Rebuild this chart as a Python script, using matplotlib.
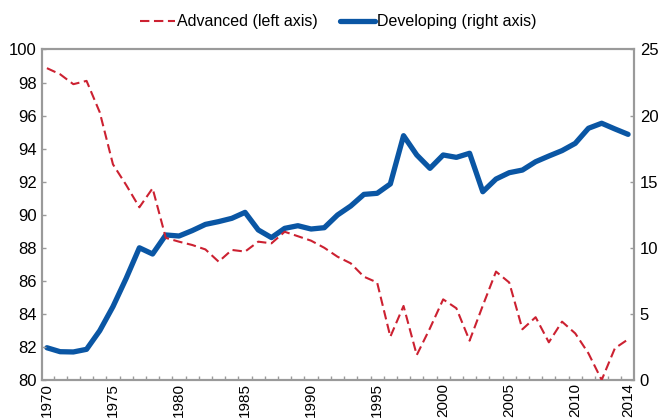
import matplotlib
matplotlib.use("Agg")
import matplotlib.pyplot as plt
from matplotlib import font_manager

# 字体：优先用窄体
names = {f.name for f in font_manager.fontManager.ttflist}
narrow = "Liberation Sans Narrow" if "Liberation Sans Narrow" in names else "Liberation Sans"
plt.rcParams["font.family"] = [narrow, "DejaVu Sans"]

years = list(range(1970, 2015))
advanced = [98.87, 98.5, 97.9, 98.1, 96.2, 93.05, 91.8, 90.45, 91.6, 88.6,
            88.37, 88.17, 87.9, 87.16, 87.87, 87.77, 88.37, 88.27, 88.97, 88.7,
            88.43, 88.0, 87.46, 87.06, 86.25, 85.9, 82.62, 84.48, 81.51, 83.13,
            84.88, 84.34, 82.38, 84.5, 86.56, 85.9, 83.07, 83.8, 82.28, 83.53,
            82.82, 81.61, 80.0, 81.92, 82.46]
developing = [2.44, 2.14, 2.12, 2.32, 3.73, 5.55, 7.69, 10.0, 9.53, 10.97,
              10.89, 11.3, 11.77, 11.98, 12.23, 12.68, 11.35, 10.77, 11.47, 11.67,
              11.42, 11.52, 12.48, 13.16, 14.04, 14.12, 14.83, 18.48, 17.02, 16.01,
              17.02, 16.84, 17.15, 14.24, 15.2, 15.68, 15.88, 16.51, 16.94, 17.35,
              17.9, 19.04, 19.42, 18.99, 18.58]
xtick_years = [1970, 1975, 1980, 1985, 1990, 1995, 2000, 2005, 2010, 2014]
left_ticks = list(range(80, 101, 2))
right_ticks = [0, 5, 10, 15, 20, 25]

red = "#CC2131"
blue = "#0A56A4"
grey = "#9A9A9A"

fig = plt.figure(figsize=(6.63, 4.19), dpi=100)
ax = fig.add_axes([0.0638, 0.0931, 0.8929, 0.7888])
ax2 = ax.twinx()

l1, = ax.plot(years, advanced, color=red, lw=1.5, dashes=(4.5, 2.2),
              label="Advanced (left axis)", zorder=3)
l2, = ax2.plot(years, developing, color=blue, lw=3.8, solid_capstyle="round",
               solid_joinstyle="round", label="Developing (right axis)")
ax.set_zorder(ax2.get_zorder() + 1)
ax.patch.set_visible(False)

ax.set_xlim(1969.65, 2014.47)
ax.set_ylim(80, 100)
ax2.set_ylim(0, 25)

ax.set_yticks(left_ticks)
ax2.set_yticks(right_ticks)
ax.set_xticks(xtick_years)
ax.set_xticklabels([str(y) for y in xtick_years], rotation=90)
ax.set_xticks([y + 0.5 for y in years[:-1]], minor=True)

for a in (ax, ax2):
    for s in a.spines.values():
        s.set_color(grey)
        s.set_linewidth(1.5)

ax.tick_params(axis="x", which="major", length=0, pad=2, labelsize=11)
ax.tick_params(axis="x", which="minor", direction="in", length=3, width=1, color=grey)
ax.tick_params(axis="y", direction="in", length=3, width=1, color=grey, pad=4,
               labelsize=12)
ax2.tick_params(axis="y", direction="in", length=3, width=1, color=grey, pad=4,
                labelsize=12)

fig.legend(handles=[l1, l2], loc="upper center", bbox_to_anchor=(0.51, 1.0),
           ncol=2, frameon=False, fontsize=11.5, handlelength=2.2,
           handletextpad=0.1, columnspacing=1.4)

fig.savefig("out.png", dpi=100)
